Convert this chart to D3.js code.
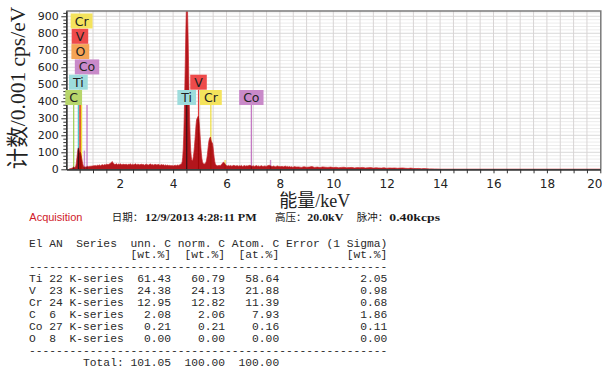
<!DOCTYPE html>
<html>
<head>
<meta charset="utf-8">
<script src="https://cdn.jsdelivr.net/npm/d3@7"></script>
<style>
  html, body { margin: 0; padding: 0; background: #fff; }
  svg { display: block; }
  .mono { font-family: "Liberation Mono", "DejaVu Sans Mono", monospace; white-space: pre; }
</style>
</head>
<body>
<svg id="chart" width="602" height="367"></svg>
<script>
// ---------- EDS spectrum (counts, 0.001 cps/eV) ----------
// Each block is a run of channels: first energy (keV), channel step (keV), counts.
const lowStart = 0.10, lowStep = 0.02;
const lowCounts = [0,2,3,4,5,6,8,9,12,14, 12,10,14,22,40,70,98,122,126,110,
  96,102,94,80,62,44,30,20,15,14, 12,14,13,15,16,18,17,15,16,18, 17,19,18,20,19,21];

const bgStart = 1.04, bgStep = 0.04;
const bgCounts = [20,23,19,24,22,26,21,25,27,24, 28,26,31,27,30,34,38,46,35,30,
  29,33,27,31,28,32,26,30,29,27, 31,25,29,28,33,26,30,27,29,32,
  26,30,28,25,31,27,29,24,28,30, 27,25,29,31,26,28,24,30,27,25,
  29,26,24,28,25,27,23,26,22,25, 21,24,20,23,19,22,24,21,25,23, 26,30];

const peakStart = 4.30, peakStep = 0.02;
const peakCounts = [30,34,44,70,120,200,330,490,660,830,
  960,1000,930,790,610,430,290,180,110,72,
  55,50,58,75,100,135,175,220,262,292,
  300,306,312,300,270,225,175,128,90,62,
  45,36,32,30,32,34,38,46,60,82,
  110,140,165,178,186,190,172,160,158,150,
  126,95,68,46,32,25];

const midStart = 5.64, midStep = 0.04;
const midCounts = [22,20,24,21,26,34,42,38,28,22, 20,23,19,22,18,21,24,19,20,22,
  18,21,19,23,17,20,22,18,21,19, 22,24,20,18,21,17,19,22,18,20,
  17,19,21,16,18,20,17,19,22,24, 21,18,16,19,17,15,18,20,16,17,
  15,18,14,16,19,15,17,14,16,13, 15,12,14,16,13];

const highStart = 8.7, highStep = 0.1;
const highCounts = [14,11,15,12,13,16,11,13,10,14, 12,11,13,10,12,9,11,12,9,10,
  11,8,10,9,11,8,9,10,7,9, 8,7,9,6,8,7,8,6,7,8, 6,5,7,5,4,5,3,4,3,2, 2,1,1,0];

const tailEnergy = [20.0];
const tailCounts = [0];

// ---------- element line markers ----------
const markerElement = ["Cr", "V", "O", "Co", "Ti", "C", "V", "Ti", "Cr", "Co"];
const markerEnergy  = [0.573, 0.511, 0.525, 0.776, 0.452, 0.277, 4.952, 4.510, 5.414, 6.930];
// secondary lines shown as short stubs
const stubElement = ["Co", "Cr", "Co"];
const stubEnergy  = [0.678, 5.947, 7.649];
const stubHeight  = [110, 55, 55];

// ---------- axis ticks ----------
const yTicks = [0, 100, 200, 300, 400, 500, 600, 700, 800, 900];
const xTicks = [2, 4, 6, 8, 10, 12, 14, 16, 18, 20];

// ---------- quantification table ----------
const tableElements = ["Ti", "V", "Cr", "C", "Co", "O"];
const tableAN = [22, 23, 24, 6, 27, 8];
const tableSeries = ["K-series", "K-series", "K-series", "K-series", "K-series", "K-series"];
const unnC  = [61.43, 24.38, 12.95, 2.08, 0.21, 0.00];
const normC = [60.79, 24.13, 12.82, 2.06, 0.21, 0.00];
const atomC = [58.64, 21.88, 11.39, 7.93, 0.16, 0.00];
const errC  = [2.05, 0.98, 0.68, 1.86, 0.11, 0.00];
const totals = [101.05, 100.00, 100.00];

// ---------- styles ----------
const boxFill = { Cr: "#f4e35c", V: "#ee4b4b", O: "#f4a455", Co: "#c98ac9", Ti: "#9ddcdc", C: "#b7d66b" };
const lineColor = { Cr: "#eedc3a", V: "#e33b3b", O: "#f09a3e", Co: "#c070c0", Ti: "#4cc4c4", C: "#9ccc50" };

// ---------- build spectrum ----------
function block(start, step, counts) {
  return counts.map((c, i) => ({ e: +(start + i * step).toFixed(3), c }));
}
const spectrum = [].concat(
  block(lowStart, lowStep, lowCounts),
  block(bgStart, bgStep, bgCounts),
  block(peakStart, peakStep, peakCounts),
  block(midStart, midStep, midCounts),
  block(highStart, highStep, highCounts),
  tailEnergy.map((e, i) => ({ e, c: tailCounts[i] }))
);

const W = 602;
const svg = d3.select("#chart");
const x = d3.scaleLinear().domain([0, 20]).range([66.3, 600.3]);
const y = d3.scaleLinear().domain([0, 931]).range([169.3, 11]);
const [x0, x1] = x.range();
const [yb, yt] = y.range();

// grid
const grid = svg.append("g");
grid.selectAll("line.hmin")
  .data(d3.range(20, 931, 20).filter(v => v % 100 !== 0))
  .join("line").attr("x1", x0).attr("x2", x1)
  .attr("y1", d => y(d)).attr("y2", d => y(d))
  .attr("stroke", "#ececec").attr("stroke-width", 1);
grid.selectAll("line.hmaj")
  .data(yTicks.slice(1))
  .join("line").attr("x1", x0).attr("x2", x1)
  .attr("y1", d => y(d)).attr("y2", d => y(d))
  .attr("stroke", "#d9d9d9").attr("stroke-width", 1);
grid.selectAll("line.v")
  .data(d3.range(0.5, 20, 0.5))
  .join("line").attr("y1", yt).attr("y2", yb)
  .attr("x1", d => x(d)).attr("x2", d => x(d))
  .attr("stroke", "#d8d4d4").attr("stroke-width", 1);

// clip region for the plot
svg.append("clipPath").attr("id", "plotClip")
  .append("rect").attr("x", x0).attr("y", yt).attr("width", x1 - x0).attr("height", yb - yt);
const plot = svg.append("g").attr("clip-path", "url(#plotClip)");

// spectrum area
const area = d3.area().x(d => x(d.e)).y0(y(0)).y1(d => y(d.c));
plot.append("path").datum(spectrum)
  .attr("d", area)
  .attr("fill", "#b3161c")
  .attr("stroke", "#c9252b").attr("stroke-width", 0.7);

// label rows (stacked tags)
const rowTop = k => 13.5 + 15.3 * k;
const rowH = 15;
const markerRow = [0, 1, 2, 3, 4, 5, 4, 5, 5, 5];

// marker lines
const markers = markerElement.map((el, i) => ({ el, e: markerEnergy[i], row: markerRow[i] }));
plot.selectAll("line.marker").data(markers).join("line")
  .attr("x1", d => x(d.e)).attr("x2", d => x(d.e))
  .attr("y1", d => rowTop(d.e < 1 ? 5 : d.row) + rowH)
  .attr("y2", y(0))
  .attr("stroke", d => lineColor[d.el]).attr("stroke-width", 1.2)
  .style("mix-blend-mode", "multiply");
const stubs = stubElement.map((el, i) => ({ el, e: stubEnergy[i], h: stubHeight[i] }));
plot.selectAll("line.stub").data(stubs).join("line")
  .attr("x1", d => x(d.e)).attr("x2", d => x(d.e))
  .attr("y1", d => y(d.h)).attr("y2", y(0))
  .attr("stroke", d => lineColor[d.el]).attr("stroke-width", 1.4)
  .attr("opacity", 0.75)
  .style("mix-blend-mode", "multiply");

// frame (top and right)
svg.append("path")
  .attr("d", `M${x0},${yt}H${x1 + 0.5}V${yb}`)
  .attr("fill", "none").attr("stroke", "#7a7a7a").attr("stroke-width", 1.5);

// axes
const axisFont = "DejaVu Sans, Verdana, sans-serif";
const yAxis = svg.append("g").attr("transform", `translate(${x0},0)`)
  .call(d3.axisLeft(y).tickValues(yTicks).tickSize(5).tickSizeOuter(0).tickPadding(2.5));
svg.append("g").attr("transform", `translate(${x0},0)`)
  .call(d3.axisLeft(y).tickValues(d3.range(20, 931, 20).filter(v => v % 100 !== 0)).tickSize(3).tickSizeOuter(0).tickFormat(""));
const xAxis = svg.append("g").attr("transform", `translate(0,${yb})`)
  .call(d3.axisBottom(x).tickValues(xTicks).tickSize(4).tickSizeOuter(0).tickPadding(6));
svg.append("g").attr("transform", `translate(0,${yb})`)
  .call(d3.axisBottom(x).tickValues(d3.range(0.5, 20, 0.5).filter(v => v % 2 !== 0)).tickSize(4).tickSizeOuter(0).tickFormat(""));
svg.selectAll(".domain").attr("stroke", "#333").attr("stroke-width", 1.3);
svg.selectAll(".tick line").attr("stroke", "#333");
yAxis.selectAll("text").attr("font-family", axisFont).attr("font-size", 11).attr("fill", "#222");
xAxis.selectAll("text").attr("font-family", axisFont).attr("font-size", 12).attr("fill", "#222");
// last tick label sits against the right edge of the page
xAxis.selectAll(".tick").filter(d => d === 20).select("text")
  .attr("text-anchor", "end").attr("x", W - x(20));

// element tags
const tags = svg.append("g");
markers.forEach(m => {
  const g = tags.append("g");
  const t = g.append("text")
    .attr("font-family", axisFont).attr("font-size", 12.5).attr("fill", "#222")
    .attr("text-anchor", "middle")
    .attr("x", x(m.e)).attr("y", rowTop(m.row) + 12)
    .text(m.el);
  const w = t.node().getComputedTextLength() + 8;
  g.insert("rect", "text")
    .attr("x", x(m.e) - w / 2).attr("y", rowTop(m.row))
    .attr("width", w).attr("height", rowH)
    .attr("fill", boxFill[m.el]);
});

// axis titles
const titleFont = "Liberation Serif, Noto Sans CJK SC, serif";
svg.append("text")
  .attr("transform", "translate(25,88) rotate(-90)")
  .attr("text-anchor", "middle")
  .attr("font-family", titleFont).attr("font-size", 21.5).attr("fill", "#222")
  .text("计数/0.001 cps/eV");
svg.append("text")
  .attr("x", 279.3).attr("y", 206.5)
  .attr("font-family", titleFont).attr("font-size", 18).attr("fill", "#222")
  .text("能量/keV");

// acquisition line
const infoY = 221;
svg.append("text").attr("x", 29.3).attr("y", infoY - 0.5)
  .attr("font-family", "Liberation Sans, Arial, sans-serif").attr("font-size", 11)
  .attr("fill", "#d0202a").text("Acquisition");
const cjk = "Liberation Serif, Noto Sans CJK SC, serif";
const lat = "Liberation Serif, serif";
const info = [
  { t: "日期：", x: 111.7, f: cjk },
  { t: "12/9/2013 4:28:11 PM", x: 145, f: lat, len: 111.7 },
  { t: "高压：", x: 275, f: cjk },
  { t: "20.0kV", x: 307.3, f: lat, len: 36 },
  { t: "脉冲：", x: 356.7, f: cjk },
  { t: "0.40kcps", x: 389.3, f: lat, len: 50.7 }
];
info.forEach(s => {
  const t = svg.append("text").attr("x", s.x).attr("y", infoY)
    .attr("font-family", s.f).attr("font-size", s.f === cjk ? 10.5 : 11).attr("fill", "#1a1a1a")
    .attr("font-weight", s.f === lat ? "bold" : "normal")
    .text(s.t);
  if (s.len) t.attr("textLength", s.len).attr("lengthAdjust", "spacingAndGlyphs");
});

// quantification table
const fmt = v => v.toFixed(2);
const dash = "-".repeat(53);
const lines = [
  "El AN  Series  unn. C norm. C Atom. C Error (1 Sigma)",
  " ".repeat(15) + "[wt.%]" + "  [wt.%]" + "  [at.%]" + " ".repeat(10) + "[wt.%]",
  dash
].concat(tableElements.map((el, i) =>
  el.padEnd(3) + String(tableAN[i]).padEnd(3) + tableSeries[i] +
  fmt(unnC[i]).padStart(7) + fmt(normC[i]).padStart(8) +
  fmt(atomC[i]).padStart(8) + fmt(errC[i]).padStart(16)
)).concat([
  dash,
  " ".repeat(8) + "Total:" + fmt(totals[0]).padStart(7) + fmt(totals[1]).padStart(8) + fmt(totals[2]).padStart(8)
]);
svg.append("g").selectAll("text").data(lines).join("text")
  .attr("class", "mono")
  .attr("xml:space", "preserve")
  .attr("x", 29).attr("y", (d, i) => 246.5 + 11.9 * i)
  .attr("font-size", 11.28).attr("fill", "#2a2a2a")
  .text(d => d);
</script>
</body>
</html>
